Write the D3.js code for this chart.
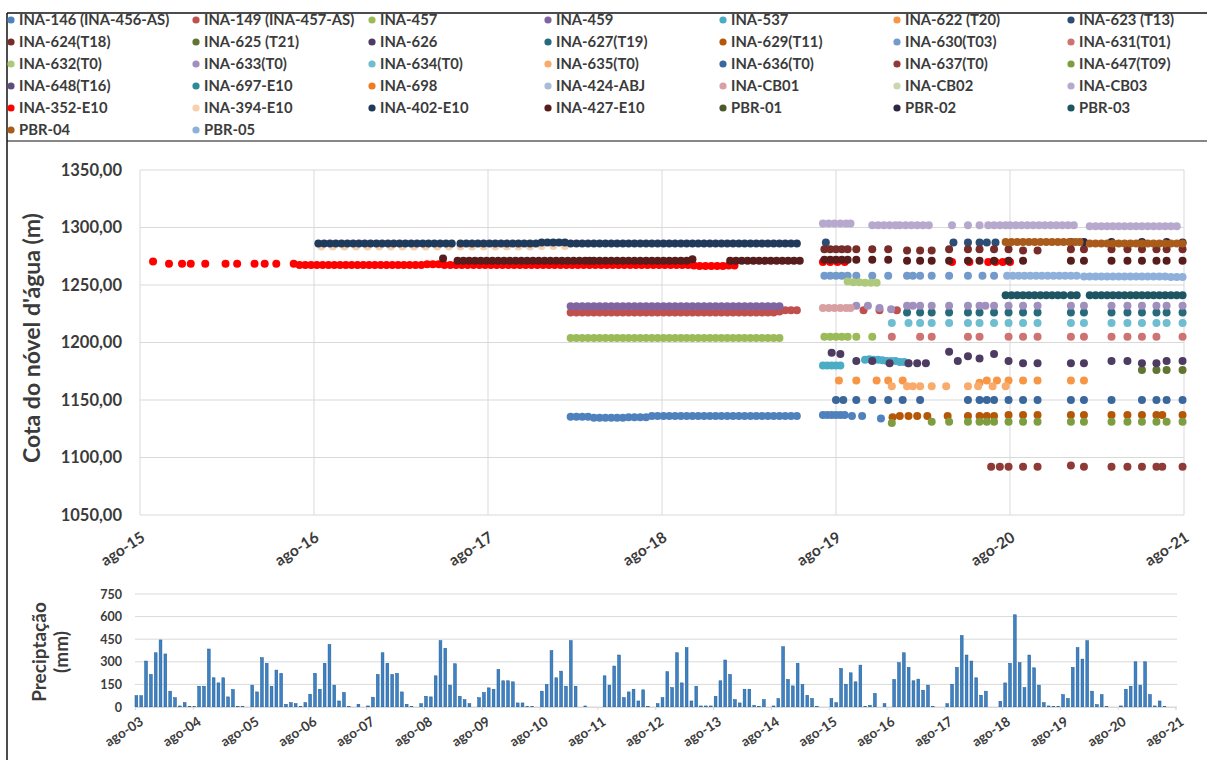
<!DOCTYPE html>
<html><head><meta charset="utf-8">
<script src="https://cdn.jsdelivr.net/npm/d3@7/dist/d3.min.js"></script>
<style>
body{margin:0;background:#fff;}
svg{display:block;font-family:Lato,"Open Sans",sans-serif;}
</style></head><body>
<svg id="c" width="1207" height="760"></svg>
<script>
// ---------------- DATA ----------------
// time unit for the level chart: months since ago-15 (Aug 2015)
const levelTickLabels = ["ago-15","ago-16","ago-17","ago-18","ago-19","ago-20","ago-21"];
const levelTickT = [0,12,24,36,48,60,72];
const levelTicks = [1050,1100,1150,1200,1250,1300,1350];

const seriesNames = ["INA-146 (INA-456-AS)","INA-149 (INA-457-AS)","INA-457","INA-459","INA-537","INA-622 (T20)","INA-623 (T13)",
 "INA-624(T18)","INA-625 (T21)","INA-626","INA-627(T19)","INA-629(T11)","INA-630(T03)","INA-631(T01)",
 "INA-632(T0)","INA-633(T0)","INA-634(T0)","INA-635(T0)","INA-636(T0)","INA-637(T0)","INA-647(T09)",
 "INA-648(T16)","INA-697-E10","INA-698","INA-424-ABJ","INA-CB01","INA-CB02","INA-CB03",
 "INA-352-E10","INA-394-E10","INA-402-E10","INA-427-E10","PBR-01","PBR-02","PBR-03",
 "PBR-04","PBR-05"];
const seriesColors = ["#4F81BD","#C0504D","#9BBB59","#8064A2","#4BACC6","#F79646","#2C4D75",
 "#772C2A","#5F7530","#4D3B62","#276A7C","#B65708","#729ACA","#CD7371",
 "#AFC97A","#A190BE","#6FBDD1","#F9AB6B","#3A679C","#8E3B38","#7E9D40",
 "#5E4D7E","#2E8A99","#F07B20","#A9BCD6","#D9A0A3","#C9D6B1","#B7A9CE",
 "#FF0000","#F6D0B0","#1F3A5A","#571C1C","#4A5A2B","#2F2840","#1E5563",
 "#A85B1A","#8FB0DA"];

const ina146 = [[29.7,1135.5],[30.1,1135.5],[30.5,1135.5],[30.9,1135.5],[31.3,1134.5],[31.7,1134.5],[32.1,1134.5],[32.5,1134.5],[32.9,1134.5],[33.3,1134.5],
 [33.7,1135],[34.1,1135],[34.5,1135],[34.9,1135],[35.3,1136],[35.7,1136],[36.1,1136],[36.5,1136],[36.9,1136],[37.3,1136],[37.7,1136],[38.1,1136],[38.5,1136],[38.9,1136],
 [39.3,1136],[39.7,1136],[40.1,1136],[40.5,1136],[40.9,1136],[41.3,1136],[41.7,1136],[42.1,1136],[42.5,1136],[42.9,1136],[43.3,1136],[43.7,1136],[44.1,1136],[44.5,1136],[44.9,1136],[45.3,1136],
 [47.1,1137],[47.4,1137],[47.7,1137],[48.0,1137],[48.3,1137],[48.6,1137],[49.1,1136],[49.8,1136],[51.1,1134]];
const ina149 = [[29.7,1226],[30.1,1226],[30.5,1226],[30.9,1226],[31.3,1226],[31.7,1226],[32.1,1226],[32.5,1226],[32.9,1226],[33.3,1226],
 [33.7,1226],[34.1,1226],[34.5,1226],[34.9,1226],[35.3,1226],[35.7,1226],[36.1,1226],[36.5,1226],[36.9,1226],[37.3,1226],[37.7,1226],[38.1,1226],[38.5,1226],[38.9,1226],
 [39.3,1226],[39.7,1226],[40.1,1226],[40.5,1226],[40.9,1226],[41.3,1226],[41.7,1226],[42.1,1226],[42.5,1226],[42.9,1226],[43.3,1226],[43.7,1226],[44.1,1227],[44.5,1228],[44.9,1228],[45.3,1228],
 [49.9,1228],[51.0,1228],[52.2,1228]];
const ina457 = [[29.7,1204],[30.1,1204],[30.5,1204],[30.9,1204],[31.3,1204],[31.7,1204],[32.1,1204],[32.5,1204],[32.9,1204],[33.3,1204],
 [33.7,1204],[34.1,1204],[34.5,1204],[34.9,1204],[35.3,1204],[35.7,1204],[36.1,1204],[36.5,1204],[36.9,1204],[37.3,1204],[37.7,1204],[38.1,1204],[38.5,1204],[38.9,1204],
 [39.3,1204],[39.7,1204],[40.1,1204],[40.5,1204],[40.9,1204],[41.3,1204],[41.7,1204],[42.1,1204],[42.5,1204],[42.9,1204],[43.3,1204],[43.7,1204],[44.1,1204],
 [47.2,1205],[47.6,1205],[48.0,1205],[48.4,1205],[48.8,1205],[49.4,1205],[50.5,1205]];
const ina459 = [[29.7,1231.5],[30.1,1231.5],[30.5,1231.5],[30.9,1231.5],[31.3,1231.5],[31.7,1231.5],[32.1,1231.5],[32.5,1231.5],[32.9,1231.5],[33.3,1231.5],
 [33.7,1231.5],[34.1,1231.5],[34.5,1231.5],[34.9,1231.5],[35.3,1231.5],[35.7,1231.5],[36.1,1231.5],[36.5,1231.5],[36.9,1231.5],[37.3,1231.5],[37.7,1231.5],[38.1,1231.5],[38.5,1231.5],[38.9,1231.5],
 [39.3,1231.5],[39.7,1231.5],[40.1,1231.5],[40.5,1231.5],[40.9,1231.5],[41.3,1231.5],[41.7,1231.5],[42.1,1231.5],[42.5,1231.5],[42.9,1231.5],[43.3,1231.5],[43.7,1231.5],[44.1,1231.5]];
const ina537 = [[47.1,1180],[47.4,1180],[47.7,1180],[48.0,1180],[48.3,1180],[50.0,1185],[50.3,1185.5],[50.6,1185],[50.9,1185],[51.2,1184.5],[51.5,1184],[51.8,1184],[52.1,1184],[52.4,1183],[52.7,1183],[53.0,1182]];
const ina622 = [[48.2,1167],[49.4,1167],[50.8,1167],[51.6,1167],[52.6,1167],[57.9,1165],[58.4,1167],[59.1,1167],[59.9,1167],[60.9,1167],[61.9,1167],[64.2,1167],[65.1,1167]];
const ina623 = [[47.3,1287],[56.1,1287],[57.1,1287],[57.9,1287],[58.4,1287],[59.0,1287]];
const ina624 = [[47.2,1281],[47.6,1281],[48.0,1281],[48.4,1281],[48.8,1281],[49.4,1281],[50.5,1281],[51.6,1281],[52.9,1280],[53.8,1280],[54.6,1280],[55.8,1281],[57.1,1281],[57.9,1281],
 [58.9,1281],[59.9,1281],[60.9,1280],[61.9,1280],[64.2,1281],[65.1,1281],[67.0,1281],[68.1,1281],[69.1,1281],[70.1,1281],[70.8,1281],[71.9,1281]];
const ina625 = [[69.1,1176],[70.1,1176],[70.8,1176],[71.9,1176]];
const ina626 = [[47.7,1191],[48.3,1190],[49.4,1184],[50.5,1184],[51.7,1182],[53.0,1182],[53.6,1182],[54.2,1182],[55.8,1192],[56.4,1184],[57.1,1188],[57.9,1186],[58.9,1190],[59.9,1184],
 [60.9,1182],[61.9,1182],[64.2,1182],[65.1,1182],[67.0,1184],[68.1,1184],[69.1,1182],[70.1,1182],[70.8,1184],[71.9,1184]];
const ina627 = [[52.9,1226],[53.8,1226],[54.6,1226],[55.8,1226],[57.1,1226],[57.9,1226],[58.9,1226],[59.9,1226],[60.9,1226],[61.9,1226],[64.2,1226],[65.1,1226],[67.0,1226],[68.1,1226],[69.1,1226],[70.1,1226],[70.8,1226],[71.9,1226]];
const ina629 = [[51.9,1135],[52.4,1136],[53.0,1136],[53.6,1136],[54.3,1136],[55.7,1136],[57.1,1136],[57.9,1136],[58.4,1136],[58.9,1136],[59.9,1137],[60.9,1137],[61.9,1137],[64.2,1137],[65.1,1137],[67.0,1137],[68.1,1137],[69.1,1137],[70.1,1137],[70.5,1137],[71.9,1137]];
const ina630 = [[47.2,1258],[47.6,1258],[48.0,1258],[48.4,1258],[48.8,1258],[49.4,1258],[50.5,1258],[51.6,1258],[52.9,1258],[53.3,1258],[53.8,1258],[54.6,1258],[55.8,1258],[57.1,1258],[58.1,1258],[58.9,1258]];
const ina631 = [[51.85,1205],[53.8,1205],[54.6,1205],[57.1,1205],[57.9,1205],[59.9,1205],[60.9,1205],[61.9,1205],[64.2,1205],[65.1,1205],[67.0,1205],[68.1,1205],[69.1,1205],[70.1,1205],[71.9,1205]];
const ina632 = [[48.8,1253],[49.2,1252.5],[49.6,1252.5],[50.0,1252],[50.4,1252],[50.8,1252]];
const ina633 = [[49.4,1232],[50.2,1232],[51.0,1230],[51.8,1229],[52.9,1232],[53.3,1232],[53.8,1232],[54.6,1232],[55.8,1232],[57.1,1232],[57.9,1232],[58.3,1232],[58.9,1232],[59.9,1232],
 [60.9,1232],[61.9,1232],[64.2,1232],[65.1,1232],[67.0,1232],[68.1,1232],[69.1,1232],[70.1,1232],[70.8,1232],[71.9,1232]];
const ina634 = [[51.85,1217],[53.0,1217],[53.8,1217],[54.6,1217],[55.8,1217],[57.1,1217],[57.9,1217],[58.9,1217],[59.9,1217],[60.9,1217],[61.9,1217],[64.2,1217],[65.1,1217],[67.0,1217],[68.1,1217],[69.1,1217],[70.1,1217],[70.8,1217],[71.9,1217]];
const ina635 = [[51.85,1162],[52.9,1162],[53.3,1162],[53.8,1162],[54.6,1162],[55.6,1162],[57.1,1162],[57.8,1162],[58.8,1162],[59.7,1162]];
const ina636 = [[48.0,1150],[48.5,1150],[49.4,1150],[50.5,1150],[51.6,1150],[52.6,1150],[53.8,1150],[57.1,1150],[57.9,1150],[58.4,1150],[58.9,1150],[59.9,1150],[60.9,1150],[61.9,1150],
 [64.2,1150],[65.1,1150],[67.0,1150],[69.1,1150],[70.1,1150],[70.8,1150],[71.9,1150]];
const ina637 = [[58.7,1092],[59.3,1092],[59.9,1092],[60.9,1092],[61.9,1092],[64.2,1093],[65.1,1092],[67.0,1092],[68.1,1092],[69.1,1092],[70.1,1092],[70.5,1092],[71.9,1092]];
const ina647 = [[51.85,1130],[54.6,1131],[55.8,1131],[57.1,1131],[57.9,1131],[58.4,1131],[58.9,1131],[59.9,1131],[60.9,1131],[61.9,1131],[64.2,1131],[65.1,1131],[67.0,1131],[68.1,1131],[69.1,1131],[70.1,1131],[70.8,1131],[71.9,1131]];
const ina648 = [];
const ina697 = [];
const ina698 = [];
const ina424 = [];
const inaCB01 = [[47.1,1230],[47.5,1230],[47.9,1230],[48.3,1230],[48.7,1230],[49.0,1230]];
const inaCB02 = [];
const inaCB03 = [[47.1,1303.5],[47.5,1303.5],[47.9,1303.5],[48.3,1303.5],[48.7,1303.5],[49.0,1303.5],[50.5,1302],[50.9,1302],[51.3,1302],[51.7,1302],[52.1,1302],[52.4,1302],[52.8,1302],[53.2,1302],
 [53.6,1302],[54.0,1302],[54.4,1302],[56.0,1302],[57.1,1302],[57.9,1302],[58.5,1302],[58.9,1302],[59.3,1302],[59.7,1302],[60.0,1302],[60.4,1302],[60.8,1302],[61.2,1302],[61.6,1302],
 [62.0,1302],[62.4,1302],[62.8,1302],[63.2,1302],[63.6,1302],[64.0,1302],[64.4,1302],[65.5,1301],[65.9,1301],[66.3,1301],[66.7,1301],[67.1,1301],[67.5,1301],[67.9,1301],[68.3,1301],
 [68.7,1301],[69.1,1301],[69.5,1301],[69.9,1301],[70.3,1301],[70.7,1301],[71.1,1301],[71.5,1301]];
const ina352 = [[0.9,1270.5],[2.0,1268.5],[2.9,1268.5],[3.5,1268.5],[4.5,1268.5],[5.9,1268.5],[6.7,1268.5],[7.9,1268.5],[8.6,1268.5],[9.4,1268.5],[10.6,1268.5],
 [11.0,1267.5],[11.4,1267.5],[11.8,1267.5],[12.2,1267.5],[12.6,1267.5],[13.0,1267.5],[13.4,1267.5],[13.8,1267.5],[14.2,1267.5],[14.6,1267.5],[15.0,1267.5],[15.4,1267.5],[15.8,1267.5],
 [16.2,1267.5],[16.6,1267.5],[17.0,1267.5],[17.4,1267.5],[17.8,1267.5],[18.2,1267.5],[18.6,1267.5],[19.0,1267.5],[19.4,1267.5],[19.8,1268],[20.2,1268],[20.6,1268],[21.0,1267.5],
 [21.4,1267.5],[21.8,1267.5],[22.2,1267.5],[22.6,1267.5],[23.0,1267.5],[23.4,1267.5],[23.8,1267.5],[24.2,1267.5],[24.6,1267.5],[25.0,1267.5],[25.4,1267.5],[25.8,1267.5],[26.2,1267.5],
 [26.6,1267.5],[27.0,1267.5],[27.4,1267.5],[27.8,1267.5],[28.2,1267.5],[28.6,1267.5],[29.0,1267.5],[29.4,1267.5],[29.8,1267.5],[30.2,1267.5],[30.6,1267.5],[31.0,1267.5],[31.4,1267.5],
 [31.8,1267.5],[32.2,1267.5],[32.6,1267.5],[33.0,1267.5],[33.4,1267.5],[33.8,1267.5],[34.2,1267.5],[34.6,1267.5],[35.0,1267.5],[35.4,1267.5],[35.8,1267.5],[36.2,1267.5],[36.6,1267.5],
 [37.0,1267.5],[37.4,1267.5],[37.8,1267.5],[38.2,1267],[38.6,1266.5],[39.0,1266.5],[39.4,1266.5],[39.8,1266.5],[40.2,1266.5],[40.6,1267],[41.0,1267],
 [47.1,1270],[47.6,1270],[48.1,1270],[48.6,1270],[56.0,1270],[57.2,1270],[58.5,1270],[59.0,1270],[59.5,1270],[60.0,1270]];
const ina394 = [[12.5,1283.5],[13.3,1283.5],[14.1,1283.5],[14.9,1283.5],[15.7,1283.5],[16.5,1283.5],[17.3,1283.5],[18.1,1283.5],[18.9,1283.5],[19.7,1283.5],[20.5,1283.5],
 [21.3,1283.5],[22.1,1283.5],[22.9,1283.5],[23.7,1283.5],[24.5,1283.5],[25.3,1283.5],[26.1,1283.5],[26.9,1283.5],[27.7,1284],[28.5,1284],[29.3,1284]];
const ina402 = [[12.3,1286],[12.7,1286],[13.1,1286],[13.5,1286],[13.9,1286],[14.3,1286],[14.7,1286],[15.1,1286],[15.5,1286],[15.9,1286],[16.3,1286],[16.7,1286],[17.1,1286],[17.5,1286],
 [17.9,1286],[18.3,1286],[18.7,1286],[19.1,1286],[19.5,1286],[19.9,1286],[20.3,1286],[20.7,1286],[21.1,1286],[21.5,1286],
 [22.1,1286],[22.5,1286],[22.9,1286],[23.3,1286],[23.7,1286],[24.1,1286],[24.5,1286],[24.9,1286],[25.3,1286],[25.7,1286],[26.1,1286],[26.5,1286],[26.9,1286],[27.3,1286],[27.7,1287],
 [28.1,1287],[28.5,1287],[28.9,1287],[29.3,1287],[29.7,1286],[30.1,1286],[30.5,1286],[30.9,1286],
 [31.3,1286],[31.7,1286],[32.1,1286],[32.5,1286],[32.9,1286],[33.3,1286],
 [33.7,1286],[34.1,1286],[34.5,1286],[34.9,1286],[35.3,1286],[35.7,1286],[36.1,1286],[36.5,1286],[36.9,1286],[37.3,1286],[37.7,1286],[38.1,1286],[38.5,1286],[38.9,1286],[39.3,1286],
 [39.7,1286],[40.1,1286],[40.5,1286],[40.9,1286],[41.3,1286],[41.7,1286],[42.1,1286],[42.5,1286],[42.9,1286],[43.3,1286],[43.7,1286],[44.1,1286],[44.5,1286],[44.9,1286],[45.3,1286]];
const ina427 = [[20.9,1273],[21.9,1271],[22.3,1271],[22.7,1271],[23.1,1271],[23.5,1271],[23.9,1271],[24.3,1271],[24.7,1271],[25.1,1271],[25.5,1271],[25.9,1271],[26.3,1271],[26.7,1271],
 [27.1,1271],[27.5,1271],[27.9,1271],[28.3,1271],[28.7,1271],[29.1,1271],[29.5,1271],[29.9,1271],[30.3,1271],[30.7,1271],[31.0,1271],
 [31.3,1271],[31.7,1271],[32.1,1271],[32.5,1271],[32.9,1271],[33.3,1271],
 [33.7,1271],[34.1,1271],[34.5,1271],[34.9,1271],[35.3,1271],[35.7,1271],[36.1,1271],[36.5,1271],[36.9,1271],[37.3,1271],[37.7,1271],[38.1,1272.5],
 [40.7,1271],[41.1,1271],[41.5,1271],[41.9,1271],[42.3,1271],[42.7,1271],[43.1,1271],[43.5,1271],[43.9,1271],[44.3,1271],[44.7,1271],[45.1,1271],[45.5,1271],
 [47.2,1272],[47.6,1272],[48.0,1272],[48.4,1272],[48.8,1272],[49.4,1272],[50.5,1272],[51.6,1272],[52.9,1271],[53.8,1271],[54.6,1271],[55.8,1271],[57.1,1271],[57.9,1271],
 [58.9,1271],[59.9,1271],[60.9,1271],[64.2,1271],[65.1,1271],[67.0,1271],[68.1,1271],[69.1,1271],[70.1,1271],[70.8,1271],[71.9,1271]];
const pbr01 = [];
const pbr02 = [[64.2,1287.5],[65.1,1287.5],[67.0,1287.5],[69.1,1287.5],[70.8,1287.5],[71.9,1287]];
const pbr03 = [[59.7,1241],[60.1,1241],[60.5,1241],[60.9,1241],[61.3,1241],[61.7,1241],[62.1,1241],[62.5,1241],[62.9,1241],[63.3,1241],[63.7,1241],[64.2,1241],[64.6,1241],
 [65.5,1241],[65.9,1241],[66.3,1241],[66.7,1241],[67.1,1241],[67.5,1241],[67.9,1241],[68.3,1241],[68.7,1241],[69.1,1241],[69.5,1241],[69.9,1241],[70.3,1241],[70.7,1241],[71.1,1241],[71.5,1241],[71.9,1241]];
const pbr04 = [[59.7,1287.5],[60.1,1287.5],[60.5,1287.5],[60.9,1287.5],[61.3,1287.5],[61.7,1287.5],[62.1,1287.5],[62.5,1287.5],[62.9,1287.5],[63.3,1287.5],[63.7,1287.5],[64.1,1287.5],[64.5,1287.5],[64.8,1287.5],
 [65.5,1286],[65.9,1286],[66.3,1286],[66.7,1286],[67.1,1286],[67.5,1286],[67.9,1286],[68.3,1286],[68.7,1286],[69.1,1286],[69.5,1286],[69.9,1286],[70.3,1286],[70.7,1286],[71.1,1286],[71.5,1286],[71.9,1286]];
const pbr05 = [[59.8,1258],[60.2,1258],[60.6,1258],[61.0,1258],[61.4,1258],[61.8,1258],[62.2,1258],[62.6,1258],[63.0,1258],[63.4,1258],[63.8,1258],[64.2,1258],[64.6,1258],
 [65.1,1257.5],[65.5,1257.5],[65.9,1257.5],[66.3,1257.5],[66.7,1257.5],[67.1,1257.5],[67.5,1257.5],[67.9,1257.5],[68.3,1257.5],[68.7,1257.5],[69.1,1257.5],[69.5,1257.5],[69.9,1257.5],
 [70.3,1257.5],[70.7,1257.5],[71.1,1257],[71.5,1257],[71.9,1257]];

// precipitation: monthly totals (mm) from ago-03 to jul-21
const precipTickLabels = ["ago-03","ago-04","ago-05","ago-06","ago-07","ago-08","ago-09","ago-10","ago-11","ago-12",
 "ago-13","ago-14","ago-15","ago-16","ago-17","ago-18","ago-19","ago-20","ago-21"];
const precipTicks = [0,150,300,450,600,750];
const precipValues = [
 75,75,305,216,360,445,352,105,62,7,29,4,
 3,138,138,385,194,160,194,67,116,4,4,0,
 145,100,327,290,138,245,223,18,29,22,4,29,
 85,223,118,290,415,145,40,96,4,0,18,0,
 7,65,216,360,290,216,223,100,18,4,0,22,
 71,67,207,440,390,145,287,71,49,22,0,62,
 96,127,118,249,174,174,167,27,27,4,4,0,
 105,149,374,194,238,138,440,138,0,7,0,0,
 0,207,145,272,345,62,100,118,40,114,4,0,
 22,62,234,129,360,160,394,40,138,7,7,7,
 71,174,312,216,49,27,118,118,11,4,49,0,
 7,56,400,183,140,290,149,78,56,4,0,0,
 56,29,256,151,227,167,278,4,11,89,0,22,
 0,183,294,360,263,174,185,111,145,4,0,0,
 22,151,263,474,345,305,194,78,105,0,0,38,
 160,290,612,294,129,345,260,145,29,7,4,4,
 82,56,263,394,318,440,105,16,82,4,0,0,
 7,118,138,300,145,300,82,7,40,4,0,0];

// ---------------- DRAW ----------------
const seriesData = [ina146,ina149,ina457,ina459,ina537,ina622,ina623,ina624,ina625,ina626,ina627,ina629,ina630,ina631,
 ina632,ina633,ina634,ina635,ina636,ina637,ina647,ina648,ina697,ina698,ina424,inaCB01,inaCB02,inaCB03,
 ina352,ina394,ina402,ina427,pbr01,pbr02,pbr03,pbr04,pbr05];
const series = seriesNames.map((n,i)=>({name:n,color:seriesColors[i],data:seriesData[i]}));

const svg = d3.select("#c");
const ink = "#3b3b3b";
// frame
svg.append("line").attr("x1",7).attr("x2",1207).attr("y1",13).attr("y2",13).attr("stroke","#111").attr("stroke-width",1.5);
svg.append("line").attr("x1",7).attr("x2",7).attr("y1",13).attr("y2",760).attr("stroke","#111").attr("stroke-width",1.5);
svg.append("line").attr("x1",7).attr("x2",1207).attr("y1",141).attr("y2",141).attr("stroke","#111").attr("stroke-width",1.2);

// legend
const legColX = [11,196,372,548,723,897,1071], legY0 = 20, legDY = 22;
const leg = svg.append("g").selectAll("g").data(series).join("g")
  .attr("transform",(d,i)=>`translate(${legColX[i%7]},${legY0+Math.floor(i/7)*legDY})`);
leg.append("circle").attr("r",3.6).attr("fill",d=>d.color);
leg.append("text").attr("x",8).attr("dy","0.35em").attr("font-size",14.8).attr("font-weight",700).attr("fill",ink).text(d=>d.name);

// level chart
const x = d3.scaleLinear().domain([0,72]).range([140,1184]);
const y = d3.scaleLinear().domain([1050,1350]).range([515,170]);
const grid = svg.append("g");
grid.selectAll("line.h").data(levelTicks).join("line").attr("class","h")
  .attr("x1",x(0)).attr("x2",x(72)).attr("y1",d=>y(d)).attr("y2",d=>y(d)).attr("stroke","#d9d9d9");
grid.selectAll("line.v").data(levelTickT).join("line").attr("class","v")
  .attr("x1",d=>x(d)).attr("x2",d=>x(d)).attr("y1",y(1350)).attr("y2",y(1050)).attr("stroke","#d9d9d9");

const yAx = svg.append("g").attr("transform",`translate(${x(0)},0)`)
  .call(d3.axisLeft(y).tickValues(levelTicks).tickSize(0).tickPadding(18).tickFormat(d=>d3.format(".2f")(d).replace(".",",")));
yAx.select(".domain").remove();
yAx.selectAll("text").attr("font-size",16.5).attr("font-weight",700).attr("fill",ink).attr("font-family","Lato");

const xAx = svg.append("g").attr("transform",`translate(0,${y(1050)})`)
  .call(d3.axisBottom(x).tickValues(levelTickT).tickSize(0).tickFormat((d,i)=>levelTickLabels[i]));
xAx.select(".domain").remove();
xAx.selectAll("text").attr("font-size",15.5).attr("font-weight",700).attr("fill",ink).attr("font-family","Lato")
  .attr("text-anchor","end").attr("transform","translate(1,18) rotate(-33)").attr("dy","0.35em");

svg.append("text").attr("transform","translate(40,338) rotate(-90)").attr("text-anchor","middle")
  .attr("font-size",23).attr("font-weight",700).attr("fill",ink).text("Cota do nóvel d'água (m)");

const pts = svg.append("g");
series.forEach(s=>{
  pts.append("g").selectAll("circle").data(s.data).join("circle")
    .attr("cx",d=>x(d[0])).attr("cy",d=>y(d[1])).attr("r",4).attr("fill",s.color);
});

// precipitation chart
const xb = d3.scaleBand().domain(d3.range(precipValues.length)).range([135,1175.5]).paddingInner(0.42);
const yb = d3.scaleLinear().domain([0,750]).range([707,594]);
svg.append("g").selectAll("line").data(precipTicks).join("line")
  .attr("x1",135).attr("x2",1177).attr("y1",d=>yb(d)).attr("y2",d=>yb(d)).attr("stroke","#d9d9d9");
svg.append("g").selectAll("rect").data(precipValues).join("rect")
  .attr("x",(d,i)=>xb(i)).attr("width",xb.bandwidth()).attr("y",d=>yb(d)).attr("height",d=>yb(0)-yb(d))
  .attr("fill","#3E82C4").attr("stroke","#1F5A91").attr("stroke-width",0.5);
const pyAx = svg.append("g").attr("transform","translate(135,0)")
  .call(d3.axisLeft(yb).tickValues(precipTicks).tickSize(0).tickPadding(13));
pyAx.select(".domain").remove();
pyAx.selectAll("text").attr("font-size",12.5).attr("font-weight",700).attr("fill",ink).attr("font-family","Lato");
const precipTickIdx = precipTickLabels.map((l,i)=>i*12);
const xp = d3.scaleLinear().domain([0,precipValues.length]).range([135,1175.5]);
const pxAx = svg.append("g").attr("transform",`translate(0,${yb(0)})`)
  .call(d3.axisBottom(xp).tickValues(precipTickIdx).tickSize(3).tickFormat((d,i)=>precipTickLabels[i]));
pxAx.select(".domain").attr("stroke","#d9d9d9");
pxAx.selectAll(".tick line").attr("stroke","#d9d9d9");
pxAx.selectAll("text").attr("font-size",13.5).attr("font-weight",700).attr("fill",ink).attr("font-family","Lato")
  .attr("text-anchor","end").attr("transform","translate(3,8) rotate(-33)").attr("dy","0.35em");
const pt = svg.append("text").attr("transform","translate(50,652) rotate(-90)").attr("text-anchor","middle")
  .attr("font-size",19).attr("font-weight",700).attr("fill",ink);
pt.append("tspan").attr("x",0).attr("dy",-4).text("Preciptação");
pt.append("tspan").attr("x",0).attr("dy",22).text("(mm)");
</script></body></html>
